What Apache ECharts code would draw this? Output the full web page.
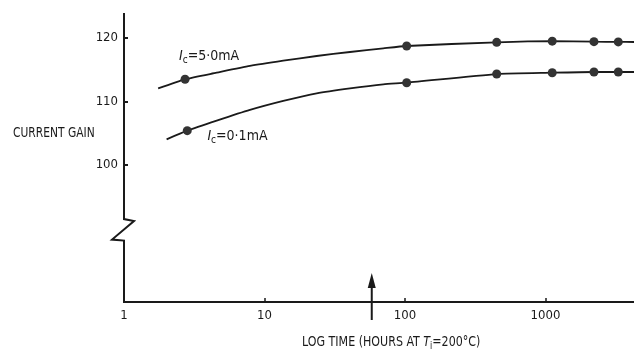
<!DOCTYPE html>
<html>
<head>
<meta charset="utf-8">
<script src="https://cdn.jsdelivr.net/npm/echarts@6/dist/echarts.min.js"></script>
<style>
html,body{margin:0;padding:0;background:#fff;}
#c{width:634px;height:349px;}
</style>
</head>
<body>
<div id="c"></div>
<script>
// ---- data ----
var yTicks = [100, 110, 120];
var upperTime = [1.75, 2.72, 4.57, 7.88, 13.6, 23.5, 40.6, 70.1, 102.8, 449.5, 1117, 2213, 3297, 4266];
var upperGain = [112.05, 113.48, 114.52, 115.58, 116.41, 117.16, 117.79, 118.37, 118.74, 119.32, 119.5, 119.42, 119.38, 119.37];
var upperDot  = [0, 1, 0, 0, 0, 0, 0, 0, 1, 1, 1, 1, 1, 0];
var lowerTime = [2.01, 2.82, 4.57, 7.88, 13.6, 23.5, 40.6, 70.1, 102.8, 449.5, 1117, 2213, 3297, 4266];
var lowerGain = [104.0, 105.36, 106.94, 108.63, 110.05, 111.26, 112.05, 112.69, 112.94, 114.31, 114.52, 114.63, 114.63, 114.63];
var lowerDot  = [0, 1, 0, 0, 0, 0, 0, 0, 1, 1, 1, 1, 1, 0];
var upperLabelAt = [4.03, 117.05];
var lowerLabelAt = [6.42, 104.4];
var arrowTime = 58;
var breakRange = [91.4, 88.0];
var yMin = 78.3, yMax = 123.95;
var xMin = 1, xMax = 4266;

var FONT = "'Liberation Sans Narrow','DejaVu Sans Condensed','Arial Narrow',sans-serif";
var INK = '#1a1a1a';

function build(t, g, d) {
  return t.map(function (v, i) {
    return { value: [v, g[i]], symbol: d[i] ? 'circle' : 'none' };
  });
}

var chart = echarts.init(document.getElementById('c'), null, { renderer: 'canvas' });

var labelRich = {
  i: { fontFamily: FONT, fontStyle: 'italic', fontSize: 14, color: INK },
  s: { fontFamily: FONT, fontSize: 10, color: INK, verticalAlign: 'bottom', padding: [8, 0, 0, 0] },
  n: { fontFamily: FONT, fontSize: 14, color: INK }
};

function seriesOf(name, data, labelAt, text) {
  return {
    type: 'line',
    name: name,
    data: data,
    smooth: 0.2,
    symbolSize: 9,
    itemStyle: { color: '#333' },
    lineStyle: { color: INK, width: 1.8 },
    z: 3,
    markPoint: {
      symbol: 'circle', symbolSize: 1,
      itemStyle: { color: 'rgba(0,0,0,0)' },
      label: { show: true, position: 'inside', formatter: text, rich: labelRich },
      data: [{ coord: labelAt }]
    }
  };
}

chart.setOption({
  animation: false,
  backgroundColor: '#fff',
  grid: { left: 124, right: 0, top: 13, bottom: 47, containLabel: false },
  xAxis: {
    type: 'log', logBase: 10, min: xMin, max: xMax,
    axisLine: { show: true, onZero: false, lineStyle: { color: INK, width: 2 } },
    axisTick: { show: true, inside: true, length: 4, lineStyle: { color: INK, width: 1.5 } },
    minorTick: { show: false },
    splitLine: { show: false },
    axisLabel: {
      margin: 7, fontFamily: FONT, fontSize: 13, color: INK,
      showMaxLabel: false,
      formatter: function (v) { return String(Math.round(v)); }
    }
  },
  yAxis: {
    type: 'value', min: yMin, max: yMax,
    axisLine: { show: false },
    axisTick: { show: true, inside: true, length: 4, customValues: yTicks, lineStyle: { color: INK, width: 2 } },
    splitLine: { show: false },
    axisLabel: { margin: 6, fontFamily: FONT, fontSize: 13, color: INK, customValues: yTicks }
  },
  series: [
    seriesOf('Ic=5.0mA', build(upperTime, upperGain, upperDot), upperLabelAt, '{i|I}{s|c}{n|=5·0mA}'),
    seriesOf('Ic=0.1mA', build(lowerTime, lowerGain, lowerDot), lowerLabelAt, '{i|I}{s|c}{n|=0·1mA}')
  ]
});

function px(x, y) { return chart.convertToPixel({ gridIndex: 0 }, [x, y]); }

var pTop = px(xMin, yMax), pB1 = px(xMin, breakRange[0]), pB2 = px(xMin, breakRange[1]), pBot = px(xMin, yMin);
var ax = pTop[0];
var pAr = px(arrowTime, yMin);

chart.setOption({
  graphic: [
    {
      type: 'polyline', z: 10,
      shape: { points: [[ax, pTop[1]], [ax, pB1[1]], [ax + 10, pB1[1] + 2], [ax - 12, pB2[1] - 1], [ax, pB2[1]], [ax, pBot[1] + 1]] },
      style: { stroke: INK, lineWidth: 2, fill: null }
    },
    {
      type: 'line', z: 10,
      shape: { x1: pAr[0], y1: pAr[1] - 16, x2: pAr[0], y2: pAr[1] + 18 },
      style: { stroke: INK, lineWidth: 2 }
    },
    {
      type: 'polygon', z: 10,
      shape: { points: [[pAr[0], pAr[1] - 29], [pAr[0] - 4, pAr[1] - 14], [pAr[0] + 4, pAr[1] - 14]] },
      style: { fill: INK }
    },
    {
      type: 'text', z: 10, x: 13, y: 126, scaleX: 0.85,
      style: { text: 'CURRENT GAIN', fontFamily: FONT, fontSize: 14, fill: INK }
    },
    {
      type: 'text', z: 10, x: 302, y: 333, scaleX: 0.88,
      style: {
        text: '{n|LOG TIME (HOURS AT }{i|T}{s|j}{n|=200°C)}',
        rich: {
          n: { fontFamily: FONT, fontSize: 14, fill: INK },
          i: { fontFamily: FONT, fontSize: 14, fontStyle: 'italic', fill: INK },
          s: { fontFamily: FONT, fontSize: 10, fill: INK, verticalAlign: 'bottom', padding: [8, 0, 0, 0] }
        }
      }
    }
  ]
});
</script>
</body>
</html>
